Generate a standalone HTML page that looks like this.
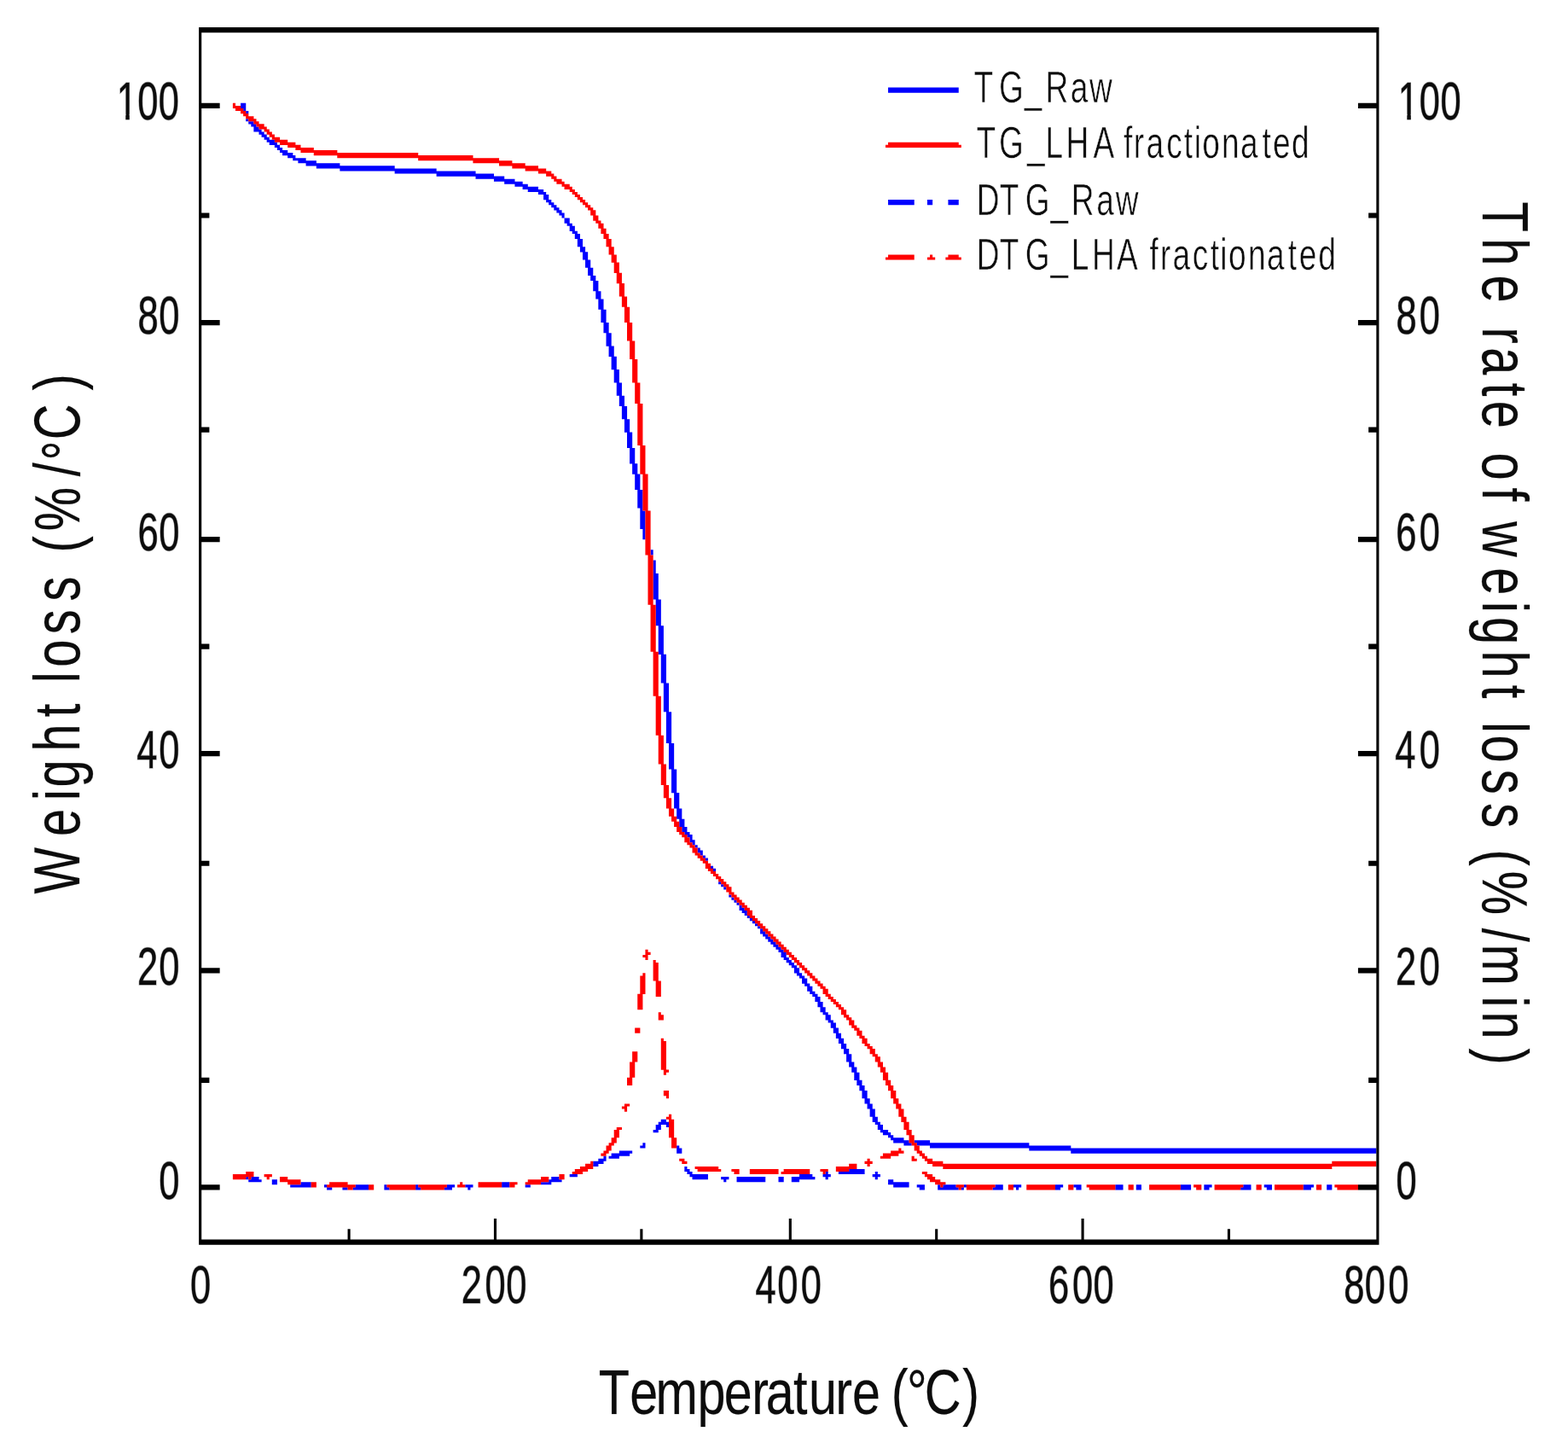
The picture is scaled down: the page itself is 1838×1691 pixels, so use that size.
<!DOCTYPE html>
<html lang="en">
<head>
<meta charset="utf-8">
<title>TG / DTG curves</title>
<style>
html, body { margin: 0; padding: 0; background: #ffffff; }
body { width: 1838px; height: 1691px; overflow: hidden; }
svg { display: block; }
text { white-space: pre; }
</style>
</head>
<body>
<figure id="chart" style="margin:0;width:1838px;height:1691px">
<svg width="1838" height="1691" viewBox="0 0 1838 1691" role="img" aria-label="TG and DTG curves of raw and LHA fractionated samples">
<rect x="0" y="0" width="1838" height="1691" fill="#ffffff"/>
<g>
<path fill="#0000ff" d="M1041.05 102.48h82.69v6.18h-82.69zM282.07 120.85h6.18v6.18h-6.18zM285.13 126.97h3.12v3.12h-3.12zM288.19 130.03h3.12v3.12h-3.12zM288.19 139.22h3.12v3.12h-3.12zM291.25 142.28h6.18v3.12h-6.18zM294.31 145.34h6.18v3.12h-6.18zM297.37 148.4h6.18v3.12h-6.18zM297.37 151.46h9.24v3.12h-9.24zM303.49 154.53h6.18v3.12h-6.18zM306.55 157.59h6.18v3.12h-6.18zM309.61 160.65h6.18v3.12h-6.18zM312.67 163.71h9.24v3.12h-9.24zM315.73 166.77h9.24v3.12h-9.24zM321.85 169.83h6.18v3.12h-6.18zM324.91 172.89h6.18v3.12h-6.18zM327.97 175.96h9.24v3.12h-9.24zM331.03 179.02h12.3v3.12h-12.3zM337.15 182.08h9.24v3.12h-9.24zM343.27 185.14h15.36v3.12h-15.36zM349.4 188.2h21.48v3.12h-21.48zM358.58 191.26h39.85v3.12h-39.85zM370.82 194.32h91.87v3.12h-91.87zM398.36 197.39h113.29v3.12h-113.29zM462.63 200.45h94.93v3.12h-94.93zM511.6 203.51h67.39v3.12h-67.39zM557.5 206.57h33.72v3.12h-33.72zM578.93 209.63h24.54v3.12h-24.54zM591.17 212.69h21.48v3.12h-21.48zM603.41 215.75h15.36v3.12h-15.36zM612.59 218.82h18.42v3.12h-18.42zM618.71 221.88h18.42v3.12h-18.42zM630.95 224.94h9.24v3.12h-9.24zM637.07 228h6.18v6.18h-6.18zM640.13 234.12h6.18v3.12h-6.18zM1041.05 234.12h30.66v6.18h-30.66zM1086.95 234.12h6.18v6.18h-6.18zM1111.44 234.12h12.3v6.18h-12.3zM643.19 237.19h6.18v3.12h-6.18zM646.25 240.25h6.18v3.12h-6.18zM649.31 243.31h6.18v3.12h-6.18zM652.38 246.37h6.18v3.12h-6.18zM655.44 249.43h6.18v3.12h-6.18zM658.5 252.49h3.12v3.12h-3.12zM661.56 255.55h6.18v6.18h-6.18zM664.62 261.68h6.18v3.12h-6.18zM667.68 264.74h6.18v6.18h-6.18zM670.74 270.86h6.18v3.12h-6.18zM673.8 273.92h6.18v6.18h-6.18zM676.86 280.05h6.18v9.24h-6.18zM679.92 289.23h6.18v6.18h-6.18zM682.98 295.35h6.18v9.24h-6.18zM686.04 304.54h6.18v9.24h-6.18zM689.1 313.72h6.18v9.24h-6.18zM692.16 322.91h6.18v6.18h-6.18zM695.22 329.03h6.18v12.31h-6.18zM698.28 341.28h6.18v9.24h-6.18zM701.34 350.46h6.18v12.31h-6.18zM704.4 362.71h6.18v15.37h-6.18zM707.46 378.01h6.18v12.31h-6.18zM710.52 390.26h6.18v15.37h-6.18zM713.58 405.57h6.18v12.31h-6.18zM716.64 417.81h6.18v15.37h-6.18zM719.7 433.12h6.18v15.37h-6.18zM722.76 448.43h6.18v15.37h-6.18zM725.82 463.74h6.18v12.31h-6.18zM728.89 475.98h6.18v15.37h-6.18zM731.95 491.29h6.18v15.37h-6.18zM735.01 506.6h6.18v18.43h-6.18zM738.07 524.97h6.18v18.43h-6.18zM741.13 543.34h6.18v12.31h-6.18zM744.19 555.58h6.18v18.43h-6.18zM747.25 573.95h6.18v21.49h-6.18zM750.31 595.38h3.12v3.12h-3.12zM750.31 598.44h6.18v21.49h-6.18zM753.37 619.87h3.12v12.31h-3.12zM762.55 644.37h3.12v6.18h-3.12zM765.61 656.61h3.12v15.37h-3.12zM765.61 671.92h6.18v30.68h-6.18zM768.67 702.53h6.18v30.68h-6.18zM771.73 733.15h6.18v33.74h-6.18zM774.79 766.83h6.18v33.74h-6.18zM777.85 800.5h6.18v33.74h-6.18zM780.91 834.18h6.18v36.8h-6.18zM783.97 870.92h6.18v30.68h-6.18zM787.03 901.53h6.18v27.61h-6.18zM790.09 929.08h6.18v18.43h-6.18zM793.15 947.45h6.18v12.31h-6.18zM796.21 959.7h6.18v9.24h-6.18zM799.27 968.88h6.18v6.18h-6.18zM802.33 975.01h6.18v3.12h-6.18zM805.4 978.07h6.18v3.12h-6.18zM808.46 981.13h3.12v3.12h-3.12zM808.46 984.19h6.18v3.12h-6.18zM811.52 987.25h3.12v3.12h-3.12zM814.58 990.31h3.12v3.12h-3.12zM817.64 993.38h3.12v3.12h-3.12zM817.64 996.44h6.18v3.12h-6.18zM820.7 999.5h3.12v3.12h-3.12zM823.76 1002.56h3.12v3.12h-3.12zM826.82 1005.62h3.12v3.12h-3.12zM832.94 1014.81h3.12v3.12h-3.12zM836 1017.87h3.12v3.12h-3.12zM842.12 1033.18h3.12v3.12h-3.12zM845.18 1036.24h3.12v3.12h-3.12zM848.24 1039.3h3.12v3.12h-3.12zM854.36 1048.48h3.12v3.12h-3.12zM857.42 1051.54h3.12v3.12h-3.12zM860.48 1054.61h3.12v3.12h-3.12zM863.54 1057.67h3.12v3.12h-3.12zM866.6 1060.73h3.12v3.12h-3.12zM866.6 1063.79h6.18v3.12h-6.18zM869.66 1066.85h6.18v3.12h-6.18zM872.72 1069.91h3.12v3.12h-3.12zM875.78 1072.98h3.12v3.12h-3.12zM878.84 1076.04h3.12v3.12h-3.12zM881.91 1079.1h3.12v3.12h-3.12zM884.97 1082.16h3.12v3.12h-3.12zM888.03 1085.22h3.12v3.12h-3.12zM891.09 1088.28h3.12v3.12h-3.12zM891.09 1091.34h6.18v3.12h-6.18zM894.15 1094.41h6.18v3.12h-6.18zM897.21 1097.47h6.18v3.12h-6.18zM900.27 1100.53h6.18v3.12h-6.18zM903.33 1103.59h6.18v3.12h-6.18zM906.39 1106.65h6.18v3.12h-6.18zM909.45 1109.71h6.18v3.12h-6.18zM912.51 1112.77h6.18v3.12h-6.18zM915.57 1115.84h6.18v6.18h-6.18zM918.63 1121.96h6.18v3.12h-6.18zM921.69 1125.02h6.18v3.12h-6.18zM924.75 1128.08h6.18v3.12h-6.18zM927.81 1131.14h6.18v3.12h-6.18zM930.87 1134.21h6.18v6.18h-6.18zM933.93 1140.33h6.18v3.12h-6.18zM936.99 1143.39h6.18v3.12h-6.18zM940.05 1146.45h6.18v6.18h-6.18zM943.11 1152.57h6.18v3.12h-6.18zM946.17 1155.64h6.18v6.18h-6.18zM949.23 1161.76h6.18v3.12h-6.18zM952.29 1164.82h6.18v3.12h-6.18zM955.35 1167.88h6.18v6.18h-6.18zM958.42 1174h6.18v6.18h-6.18zM961.48 1180.13h6.18v6.18h-6.18zM964.54 1186.25h6.18v3.12h-6.18zM967.6 1189.31h6.18v6.18h-6.18zM970.66 1195.44h6.18v3.12h-6.18zM973.72 1198.5h6.18v6.18h-6.18zM976.78 1204.62h6.18v6.18h-6.18zM979.84 1210.74h6.18v6.18h-6.18zM982.9 1216.87h6.18v6.18h-6.18zM985.96 1222.99h6.18v6.18h-6.18zM989.02 1229.11h6.18v6.18h-6.18zM992.08 1235.23h6.18v9.24h-6.18zM995.14 1244.42h6.18v6.18h-6.18zM998.2 1250.54h6.18v6.18h-6.18zM1001.26 1256.67h6.18v9.24h-6.18zM1004.32 1265.85h6.18v6.18h-6.18zM1007.38 1271.97h6.18v6.18h-6.18zM1010.44 1278.1h6.18v9.24h-6.18zM1013.5 1287.28h6.18v6.18h-6.18zM1016.56 1293.4h6.18v6.18h-6.18zM1019.62 1299.53h6.18v9.24h-6.18zM1022.68 1308.71h6.18v6.18h-6.18zM774.79 1311.77h6.18v3.12h-6.18zM771.73 1314.83h12.3v3.12h-12.3zM1025.74 1314.83h6.18v3.12h-6.18zM768.67 1317.89h6.18v6.18h-6.18zM780.91 1317.89h3.12v3.12h-3.12zM1028.8 1317.89h6.18v6.18h-6.18zM765.61 1324.02h6.18v3.12h-6.18zM1031.86 1324.02h9.24v3.12h-9.24zM1034.93 1327.08h9.24v3.12h-9.24zM1041.05 1330.14h6.18v3.12h-6.18zM1044.11 1333.2h15.36v3.12h-15.36zM1047.17 1336.26h18.42v3.12h-18.42zM1071.65 1336.26h18.42v3.12h-18.42zM753.37 1339.33h3.12v3.12h-3.12zM1059.41 1339.33h9.24v3.12h-9.24zM1074.71 1339.33h131.66v3.12h-131.66zM750.31 1342.39h6.18v3.12h-6.18zM793.15 1342.39h3.12v3.12h-3.12zM1090.01 1342.39h165.32v3.12h-165.32zM793.15 1345.45h6.18v6.18h-6.18zM1206.31 1345.45h407.09v3.12h-407.09zM725.82 1348.51h15.36v3.12h-15.36zM1255.27 1348.51h358.13v3.12h-358.13zM716.64 1351.57h21.48v3.12h-21.48zM707.46 1354.63h3.12v3.12h-3.12zM713.58 1354.63h12.3v3.12h-12.3zM701.34 1357.69h9.24v3.12h-9.24zM695.22 1360.76h12.3v3.12h-12.3zM695.22 1363.82h6.18v3.12h-6.18zM802.33 1366.88h3.12v3.12h-3.12zM802.33 1369.94h6.18v3.12h-6.18zM995.14 1369.94h18.42v3.12h-18.42zM805.4 1373h6.18v3.12h-6.18zM967.6 1373h3.12v3.12h-3.12zM982.9 1373h30.66v3.12h-30.66zM1025.74 1373h3.12v3.12h-3.12zM667.68 1376.06h9.24v3.12h-9.24zM808.46 1376.06h21.48v3.12h-21.48zM936.99 1376.06h15.36v3.12h-15.36zM964.54 1376.06h9.24v3.12h-9.24zM1022.68 1376.06h9.24v3.12h-9.24zM288.19 1379.12h3.12v3.12h-3.12zM294.31 1379.12h9.24v3.12h-9.24zM646.25 1379.12h9.24v3.12h-9.24zM811.52 1379.12h18.42v3.12h-18.42zM845.18 1379.12h9.24v3.12h-9.24zM863.54 1379.12h33.72v6.18h-33.72zM912.51 1379.12h6.18v6.18h-6.18zM927.81 1379.12h27.6v3.12h-27.6zM967.6 1379.12h3.12v3.12h-3.12zM1025.74 1379.12h3.12v3.12h-3.12zM291.25 1382.19h15.36v3.12h-15.36zM318.79 1382.19h6.18v6.18h-6.18zM643.19 1382.19h15.36v3.12h-15.36zM848.24 1382.19h3.12v3.12h-3.12zM927.81 1382.19h9.24v3.12h-9.24zM1041.05 1382.19h6.18v3.12h-6.18zM352.46 1385.25h12.3v3.12h-12.3zM588.11 1385.25h9.24v6.18h-9.24zM634.01 1385.25h12.3v3.12h-12.3zM1041.05 1385.25h24.54v3.12h-24.54zM340.21 1388.31h24.54v3.12h-24.54zM380 1388.31h3.12v3.12h-3.12zM416.72 1388.31h15.36v3.12h-15.36zM450.39 1388.31h3.12v3.12h-3.12zM487.11 1388.31h3.12v3.12h-3.12zM523.84 1388.31h9.24v3.12h-9.24zM545.26 1388.31h9.24v3.12h-9.24zM615.65 1388.31h6.18v3.12h-6.18zM1047.17 1388.31h18.42v3.12h-18.42zM1074.71 1388.31h9.24v3.12h-9.24zM1099.19 1388.31h3.12v3.12h-3.12zM1105.31 1388.31h15.36v3.12h-15.36zM1129.8 1388.31h3.12v3.12h-3.12zM1166.52 1388.31h9.24v3.12h-9.24zM1187.95 1388.31h9.24v3.12h-9.24zM1236.91 1388.31h9.24v3.12h-9.24zM1258.33 1388.31h9.24v3.12h-9.24zM1307.3 1388.31h9.24v6.18h-9.24zM1331.78 1388.31h6.18v6.18h-6.18zM1383.81 1388.31h12.3v6.18h-12.3zM1411.35 1388.31h9.24v3.12h-9.24zM1457.26 1388.31h9.24v3.12h-9.24zM1481.74 1388.31h9.24v3.12h-9.24zM1527.65 1388.31h12.3v3.12h-12.3zM1555.19 1388.31h6.18v6.18h-6.18zM383.06 1391.37h6.18v3.12h-6.18zM401.42 1391.37h6.18v3.12h-6.18zM413.66 1391.37h18.42v3.12h-18.42zM450.39 1391.37h6.18v3.12h-6.18zM487.11 1391.37h6.18v3.12h-6.18zM520.78 1391.37h9.24v3.12h-9.24zM548.32 1391.37h3.12v3.12h-3.12zM1077.77 1391.37h6.18v3.12h-6.18zM1099.19 1391.37h24.54v3.12h-24.54zM1126.74 1391.37h3.12v3.12h-3.12zM1163.46 1391.37h12.3v3.12h-12.3zM1191.01 1391.37h3.12v3.12h-3.12zM1236.91 1391.37h6.18v3.12h-6.18zM1261.39 1391.37h6.18v3.12h-6.18zM1411.35 1391.37h6.18v3.12h-6.18zM1454.2 1391.37h12.3v3.12h-12.3zM1484.8 1391.37h6.18v3.12h-6.18zM1527.65 1391.37h9.24v3.12h-9.24z"/>
<path fill="#ff0000" d="M272.89 120.85h3.12v3.12h-3.12zM272.89 123.91h9.24v3.12h-9.24zM275.95 126.97h9.24v3.12h-9.24zM282.07 130.03h6.18v3.12h-6.18zM285.13 133.09h6.18v3.12h-6.18zM288.19 136.16h9.24v3.12h-9.24zM291.25 139.22h9.24v3.12h-9.24zM297.37 142.28h6.18v3.12h-6.18zM300.43 145.34h9.24v3.12h-9.24zM303.49 148.4h9.24v3.12h-9.24zM309.61 151.46h6.18v3.12h-6.18zM312.67 154.53h6.18v3.12h-6.18zM315.73 157.59h6.18v3.12h-6.18zM318.79 160.65h9.24v3.12h-9.24zM321.85 163.71h15.36v3.12h-15.36zM327.97 166.77h18.42v3.12h-18.42zM1041.05 166.77h82.69v3.12h-82.69zM337.15 169.83h15.36v3.12h-15.36zM1037.99 169.83h88.81v3.12h-88.81zM346.34 172.89h21.48v3.12h-21.48zM352.46 175.96h42.91v3.12h-42.91zM367.76 179.02h122.48v3.12h-122.48zM395.3 182.08h159.2v3.12h-159.2zM490.17 185.14h94.93v3.12h-94.93zM554.44 188.2h45.97v3.12h-45.97zM585.05 191.26h30.66v3.12h-30.66zM600.35 194.32h30.66v3.12h-30.66zM615.65 197.39h24.54v3.12h-24.54zM630.95 200.45h15.36v3.12h-15.36zM640.13 203.51h9.24v3.12h-9.24zM646.25 206.57h6.18v3.12h-6.18zM649.31 209.63h9.24v3.12h-9.24zM652.38 212.69h9.24v3.12h-9.24zM658.5 215.75h9.24v3.12h-9.24zM661.56 218.82h9.24v3.12h-9.24zM667.68 221.88h6.18v3.12h-6.18zM670.74 224.94h6.18v3.12h-6.18zM673.8 228h6.18v3.12h-6.18zM676.86 231.06h6.18v3.12h-6.18zM679.92 234.12h6.18v3.12h-6.18zM682.98 237.19h6.18v3.12h-6.18zM686.04 240.25h6.18v3.12h-6.18zM689.1 243.31h6.18v3.12h-6.18zM692.16 246.37h6.18v6.18h-6.18zM695.22 252.49h6.18v6.18h-6.18zM698.28 258.62h6.18v3.12h-6.18zM701.34 261.68h6.18v6.18h-6.18zM704.4 267.8h6.18v6.18h-6.18zM707.46 273.92h6.18v6.18h-6.18zM710.52 280.05h6.18v9.24h-6.18zM713.58 289.23h6.18v9.24h-6.18zM716.64 298.42h6.18v9.24h-6.18zM1041.05 298.42h30.66v3.12h-30.66zM1090.01 298.42h3.12v3.12h-3.12zM1111.44 298.42h12.3v3.12h-12.3zM1037.99 301.48h33.72v3.12h-33.72zM1086.95 301.48h9.24v3.12h-9.24zM1108.37 301.48h18.42v3.12h-18.42zM719.7 307.6h6.18v12.31h-6.18zM722.76 319.85h6.18v12.31h-6.18zM725.82 332.09h6.18v15.37h-6.18zM728.89 347.4h6.18v12.31h-6.18zM731.95 359.65h6.18v18.43h-6.18zM735.01 378.01h6.18v21.49h-6.18zM738.07 399.44h6.18v21.49h-6.18zM741.13 420.88h6.18v27.61h-6.18zM744.19 448.43h6.18v24.55h-6.18zM747.25 472.92h6.18v49.04h-6.18zM750.31 521.91h6.18v33.74h-6.18zM753.37 555.58h6.18v42.92h-6.18zM756.43 598.44h6.18v52.11h-6.18zM759.49 650.49h6.18v58.23h-6.18zM762.55 708.66h6.18v55.17h-6.18zM765.61 763.76h6.18v52.11h-6.18zM768.67 815.81h6.18v45.98h-6.18zM771.73 861.73h6.18v33.74h-6.18zM774.79 895.41h6.18v24.55h-6.18zM777.85 919.9h6.18v15.37h-6.18zM780.91 935.21h6.18v12.31h-6.18zM783.97 947.45h6.18v9.24h-6.18zM787.03 956.64h6.18v6.18h-6.18zM790.09 962.76h6.18v6.18h-6.18zM793.15 968.88h6.18v6.18h-6.18zM796.21 975.01h6.18v3.12h-6.18zM799.27 978.07h6.18v3.12h-6.18zM802.33 981.13h6.18v6.18h-6.18zM805.4 987.25h6.18v3.12h-6.18zM808.46 990.31h6.18v3.12h-6.18zM811.52 993.38h6.18v6.18h-6.18zM814.58 999.5h6.18v3.12h-6.18zM817.64 1002.56h6.18v3.12h-6.18zM820.7 1005.62h6.18v3.12h-6.18zM823.76 1008.68h6.18v3.12h-6.18zM826.82 1011.75h6.18v6.18h-6.18zM829.88 1017.87h6.18v3.12h-6.18zM832.94 1020.93h6.18v3.12h-6.18zM836 1023.99h6.18v3.12h-6.18zM839.06 1027.05h6.18v3.12h-6.18zM842.12 1030.11h6.18v3.12h-6.18zM845.18 1033.18h6.18v3.12h-6.18zM848.24 1036.24h6.18v3.12h-6.18zM851.3 1039.3h6.18v6.18h-6.18zM854.36 1045.42h6.18v3.12h-6.18zM857.42 1048.48h6.18v3.12h-6.18zM860.48 1051.54h6.18v3.12h-6.18zM863.54 1054.61h6.18v3.12h-6.18zM866.6 1057.67h6.18v3.12h-6.18zM869.66 1060.73h6.18v3.12h-6.18zM872.72 1063.79h6.18v3.12h-6.18zM875.78 1066.85h6.18v6.18h-6.18zM878.84 1072.98h6.18v3.12h-6.18zM881.91 1076.04h6.18v3.12h-6.18zM884.97 1079.1h6.18v3.12h-6.18zM888.03 1082.16h6.18v3.12h-6.18zM891.09 1085.22h6.18v3.12h-6.18zM894.15 1088.28h6.18v3.12h-6.18zM897.21 1091.34h6.18v3.12h-6.18zM900.27 1094.41h6.18v3.12h-6.18zM903.33 1097.47h6.18v3.12h-6.18zM906.39 1100.53h6.18v3.12h-6.18zM909.45 1103.59h6.18v3.12h-6.18zM912.51 1106.65h6.18v3.12h-6.18zM915.57 1109.71h6.18v3.12h-6.18zM756.43 1112.77h3.12v3.12h-3.12zM918.63 1112.77h6.18v3.12h-6.18zM756.43 1115.84h6.18v3.12h-6.18zM921.69 1115.84h6.18v3.12h-6.18zM753.37 1118.9h6.18v3.12h-6.18zM924.75 1118.9h6.18v3.12h-6.18zM756.43 1121.96h3.12v3.12h-3.12zM927.81 1121.96h6.18v3.12h-6.18zM765.61 1125.02h3.12v3.12h-3.12zM930.87 1125.02h6.18v3.12h-6.18zM765.61 1128.08h6.18v21.49h-6.18zM933.93 1128.08h6.18v3.12h-6.18zM936.99 1131.14h6.18v3.12h-6.18zM940.05 1134.21h6.18v3.12h-6.18zM943.11 1137.27h6.18v3.12h-6.18zM753.37 1140.33h3.12v3.12h-3.12zM946.17 1140.33h6.18v3.12h-6.18zM750.31 1143.39h6.18v21.49h-6.18zM949.23 1143.39h6.18v3.12h-6.18zM952.29 1146.45h6.18v3.12h-6.18zM768.67 1149.51h6.18v18.43h-6.18zM955.35 1149.51h6.18v3.12h-6.18zM958.42 1152.57h6.18v3.12h-6.18zM961.48 1155.64h6.18v3.12h-6.18zM964.54 1158.7h6.18v6.18h-6.18zM747.25 1164.82h6.18v18.43h-6.18zM967.6 1164.82h6.18v3.12h-6.18zM970.66 1167.88h6.18v3.12h-6.18zM973.72 1170.94h6.18v3.12h-6.18zM976.78 1174h6.18v3.12h-6.18zM979.84 1177.07h6.18v3.12h-6.18zM982.9 1180.13h6.18v3.12h-6.18zM985.96 1183.19h6.18v6.18h-6.18zM771.73 1186.25h3.12v3.12h-3.12zM771.73 1189.31h6.18v6.18h-6.18zM989.02 1189.31h6.18v3.12h-6.18zM992.08 1192.37h6.18v3.12h-6.18zM995.14 1195.44h6.18v6.18h-6.18zM998.2 1201.56h6.18v3.12h-6.18zM744.19 1204.62h6.18v6.18h-6.18zM1001.26 1204.62h6.18v3.12h-6.18zM1004.32 1207.68h6.18v6.18h-6.18zM1007.38 1213.8h6.18v3.12h-6.18zM774.79 1216.87h3.12v3.12h-3.12zM1010.44 1216.87h6.18v6.18h-6.18zM774.79 1219.93h6.18v33.74h-6.18zM1013.5 1222.99h6.18v3.12h-6.18zM1016.56 1226.05h6.18v3.12h-6.18zM1019.62 1229.11h6.18v6.18h-6.18zM741.13 1232.17h6.18v12.31h-6.18zM1022.68 1235.23h6.18v3.12h-6.18zM1025.74 1238.3h6.18v6.18h-6.18zM738.07 1244.42h6.18v18.43h-6.18zM1028.8 1244.42h6.18v6.18h-6.18zM1031.86 1250.54h6.18v6.18h-6.18zM777.85 1253.6h6.18v3.12h-6.18zM777.85 1256.67h3.12v3.12h-3.12zM1034.93 1256.67h6.18v9.24h-6.18zM735.01 1262.79h6.18v9.24h-6.18zM1037.99 1265.85h6.18v6.18h-6.18zM1041.05 1271.97h6.18v6.18h-6.18zM777.85 1278.1h6.18v6.18h-6.18zM1044.11 1278.1h6.18v9.24h-6.18zM780.91 1284.22h3.12v3.12h-3.12zM1047.17 1287.28h6.18v6.18h-6.18zM731.95 1293.4h6.18v3.12h-6.18zM1050.23 1293.4h6.18v6.18h-6.18zM728.89 1296.46h6.18v3.12h-6.18zM731.95 1299.53h3.12v3.12h-3.12zM1053.29 1299.53h6.18v9.24h-6.18zM783.97 1305.65h3.12v3.12h-3.12zM780.91 1308.71h6.18v3.12h-6.18zM1056.35 1308.71h6.18v6.18h-6.18zM783.97 1311.77h6.18v21.49h-6.18zM1059.41 1314.83h6.18v9.24h-6.18zM722.76 1320.96h6.18v3.12h-6.18zM719.7 1324.02h6.18v9.24h-6.18zM1062.47 1324.02h6.18v6.18h-6.18zM1065.53 1330.14h6.18v9.24h-6.18zM716.64 1333.2h6.18v6.18h-6.18zM787.03 1333.2h6.18v12.31h-6.18zM713.58 1339.33h6.18v3.12h-6.18zM1068.59 1339.33h6.18v3.12h-6.18zM710.52 1342.39h6.18v6.18h-6.18zM1071.65 1342.39h6.18v6.18h-6.18zM1053.29 1345.45h3.12v3.12h-3.12zM707.46 1348.51h6.18v3.12h-6.18zM1044.11 1348.51h15.36v3.12h-15.36zM1074.71 1348.51h6.18v3.12h-6.18zM704.4 1351.57h6.18v3.12h-6.18zM1034.93 1351.57h18.42v3.12h-18.42zM1077.77 1351.57h6.18v3.12h-6.18zM1031.86 1354.63h12.3v3.12h-12.3zM1068.59 1354.63h3.12v3.12h-3.12zM1080.83 1354.63h6.18v3.12h-6.18zM796.21 1357.69h6.18v3.12h-6.18zM1016.56 1357.69h3.12v3.12h-3.12zM1068.59 1357.69h6.18v3.12h-6.18zM1083.89 1357.69h9.24v3.12h-9.24zM692.16 1360.76h3.12v3.12h-3.12zM799.27 1360.76h6.18v3.12h-6.18zM1013.5 1360.76h9.24v3.12h-9.24zM1086.95 1360.76h18.42v3.12h-18.42zM1561.31 1360.76h52.09v3.12h-52.09zM686.04 1363.82h9.24v3.12h-9.24zM995.14 1363.82h9.24v3.12h-9.24zM1016.56 1363.82h3.12v3.12h-3.12zM1093.07 1363.82h520.33v3.12h-520.33zM679.92 1366.88h15.36v3.12h-15.36zM814.58 1366.88h27.6v3.12h-27.6zM979.84 1366.88h24.54v3.12h-24.54zM1105.31 1366.88h456.06v3.12h-456.06zM673.8 1369.94h15.36v3.12h-15.36zM817.64 1369.94h27.6v3.12h-27.6zM857.42 1369.94h9.24v3.12h-9.24zM878.84 1369.94h33.72v6.18h-33.72zM918.63 1369.94h30.66v3.12h-30.66zM961.48 1369.94h9.24v3.12h-9.24zM979.84 1369.94h15.36v3.12h-15.36zM288.19 1373h9.24v3.12h-9.24zM670.74 1373h12.3v3.12h-12.3zM860.48 1373h6.18v3.12h-6.18zM915.57 1373h33.72v3.12h-33.72zM964.54 1373h3.12v3.12h-3.12zM1080.83 1373h6.18v3.12h-6.18zM272.89 1376.06h24.54v3.12h-24.54zM309.61 1376.06h9.24v3.12h-9.24zM655.44 1376.06h6.18v6.18h-6.18zM1083.89 1376.06h9.24v3.12h-9.24zM272.89 1379.12h15.36v3.12h-15.36zM291.25 1379.12h3.12v3.12h-3.12zM312.67 1379.12h3.12v3.12h-3.12zM327.97 1379.12h9.24v3.12h-9.24zM634.01 1379.12h9.24v3.12h-9.24zM1086.95 1379.12h9.24v3.12h-9.24zM327.97 1382.19h24.54v3.12h-24.54zM618.71 1382.19h24.54v3.12h-24.54zM1090.01 1382.19h12.3v3.12h-12.3zM337.15 1385.25h15.36v3.12h-15.36zM364.7 1385.25h6.18v6.18h-6.18zM386.12 1385.25h21.48v3.12h-21.48zM539.14 1385.25h3.12v3.12h-3.12zM560.56 1385.25h27.6v6.18h-27.6zM597.29 1385.25h9.24v3.12h-9.24zM615.65 1385.25h18.42v3.12h-18.42zM1096.13 1385.25h12.3v3.12h-12.3zM383.06 1388.31h33.72v3.12h-33.72zM432.03 1388.31h6.18v6.18h-6.18zM453.45 1388.31h33.72v3.12h-33.72zM490.17 1388.31h33.72v3.12h-33.72zM536.08 1388.31h9.24v3.12h-9.24zM597.29 1388.31h6.18v3.12h-6.18zM1102.25 1388.31h3.12v3.12h-3.12zM1120.62 1388.31h9.24v3.12h-9.24zM1132.86 1388.31h33.72v3.12h-33.72zM1181.82 1388.31h6.18v6.18h-6.18zM1203.25 1388.31h33.72v6.18h-33.72zM1252.21 1388.31h6.18v6.18h-6.18zM1273.64 1388.31h33.72v3.12h-33.72zM1322.6 1388.31h6.18v6.18h-6.18zM1347.09 1388.31h36.78v6.18h-36.78zM1399.11 1388.31h9.24v3.12h-9.24zM1423.6 1388.31h33.72v3.12h-33.72zM1472.56 1388.31h6.18v6.18h-6.18zM1493.99 1388.31h33.72v6.18h-33.72zM1542.95 1388.31h6.18v6.18h-6.18zM1564.37 1388.31h27.6v3.12h-27.6zM407.54 1391.37h6.18v3.12h-6.18zM456.51 1391.37h30.66v3.12h-30.66zM493.23 1391.37h27.6v3.12h-27.6zM1123.68 1391.37h3.12v3.12h-3.12zM1132.86 1391.37h30.66v3.12h-30.66zM1276.7 1391.37h30.66v3.12h-30.66zM1402.17 1391.37h6.18v3.12h-6.18zM1423.6 1391.37h30.66v3.12h-30.66zM1567.43 1391.37h24.54v3.12h-24.54z"/>
<path fill="#000000" d="M233.1 32.07h1383.36v6.18h-1383.36zM233.1 38.19h3.12v82.72h-3.12zM1613.34 38.19h3.12v82.72h-3.12zM233.1 120.85h24.54v6.18h-24.54zM1591.92 120.85h24.54v6.18h-24.54zM233.1 126.97h3.12v122.52h-3.12zM1613.34 126.97h3.12v122.52h-3.12zM233.1 249.43h12.3v6.18h-12.3zM1604.16 249.43h12.3v6.18h-12.3zM233.1 255.55h3.12v119.46h-3.12zM1613.34 255.55h3.12v119.46h-3.12zM233.1 374.95h24.54v6.18h-24.54zM1591.92 374.95h24.54v6.18h-24.54zM233.1 381.08h3.12v119.46h-3.12zM1613.34 381.08h3.12v119.46h-3.12zM233.1 500.47h12.3v6.18h-12.3zM1604.16 500.47h12.3v6.18h-12.3zM233.1 506.6h3.12v122.52h-3.12zM1613.34 506.6h3.12v122.52h-3.12zM233.1 629.06h24.54v6.18h-24.54zM1591.92 629.06h24.54v6.18h-24.54zM233.1 635.18h3.12v119.46h-3.12zM1613.34 635.18h3.12v119.46h-3.12zM233.1 754.58h12.3v6.18h-12.3zM1604.16 754.58h12.3v6.18h-12.3zM233.1 760.7h3.12v119.46h-3.12zM1613.34 760.7h3.12v119.46h-3.12zM233.1 880.1h24.54v6.18h-24.54zM1591.92 880.1h24.54v6.18h-24.54zM233.1 886.22h3.12v122.52h-3.12zM1613.34 886.22h3.12v122.52h-3.12zM233.1 1008.68h12.3v6.18h-12.3zM1604.16 1008.68h12.3v6.18h-12.3zM233.1 1014.81h3.12v119.46h-3.12zM1613.34 1014.81h3.12v119.46h-3.12zM233.1 1134.21h24.54v6.18h-24.54zM1591.92 1134.21h24.54v6.18h-24.54zM233.1 1140.33h3.12v122.52h-3.12zM1613.34 1140.33h3.12v122.52h-3.12zM233.1 1262.79h12.3v6.18h-12.3zM1604.16 1262.79h12.3v6.18h-12.3zM233.1 1268.91h3.12v119.46h-3.12zM1613.34 1268.91h3.12v119.46h-3.12zM233.1 1388.31h24.54v6.18h-24.54zM1591.92 1388.31h24.54v6.18h-24.54zM233.1 1394.43h3.12v58.23h-3.12zM1613.34 1394.43h3.12v58.23h-3.12zM578.93 1428.11h3.12v24.55h-3.12zM924.75 1428.11h3.12v24.55h-3.12zM1267.52 1428.11h3.12v24.55h-3.12zM407.54 1440.36h3.12v12.31h-3.12zM750.31 1440.36h3.12v12.31h-3.12zM1096.13 1440.36h3.12v12.31h-3.12zM1438.9 1440.36h3.12v12.31h-3.12zM233.1 1452.6h1383.36v6.18h-1383.36z"/>
</g>
<g font-family='"Liberation Sans", sans-serif' fill="#0c0c0c">
<text transform="translate(0.00,140.10) scale(0.69,1)" font-size="63" text-anchor="start" x="198.07 233.86 269.29" stroke="#000" stroke-opacity="0.4" stroke-width="1.3" vector-effect="non-scaling-stroke">100</text>
<g transform="translate(0,140.10) scale(0.69,1)" fill="#fff"><rect x="199.91" y="-6.31" width="13.50" height="8.71"/><rect x="219.98" y="-6.31" width="12.43" height="8.71"/></g>
<text transform="translate(0.00,140.10) scale(0.69,1)" font-size="63" text-anchor="start" x="2374.95 2411.18 2446.97" stroke="#000" stroke-opacity="0.4" stroke-width="1.3" vector-effect="non-scaling-stroke">100</text>
<g transform="translate(0,140.10) scale(0.69,1)" fill="#fff"><rect x="2376.80" y="-6.31" width="13.50" height="8.71"/><rect x="2396.86" y="-6.31" width="12.43" height="8.71"/></g>
<text transform="translate(0.00,391.30) scale(0.69,1)" font-size="63" text-anchor="start" x="234.00 269.80" stroke="#000" stroke-opacity="0.4" stroke-width="1.3" vector-effect="non-scaling-stroke">80</text>
<text transform="translate(0.00,391.30) scale(0.69,1)" font-size="63" text-anchor="start" x="2371.72 2411.39" stroke="#000" stroke-opacity="0.4" stroke-width="1.3" vector-effect="non-scaling-stroke">80</text>
<text transform="translate(0.00,645.25) scale(0.69,1)" font-size="63" text-anchor="start" x="234.00 269.80" stroke="#000" stroke-opacity="0.4" stroke-width="1.3" vector-effect="non-scaling-stroke">60</text>
<text transform="translate(0.00,645.25) scale(0.69,1)" font-size="63" text-anchor="start" x="2371.50 2411.39" stroke="#000" stroke-opacity="0.4" stroke-width="1.3" vector-effect="non-scaling-stroke">60</text>
<text transform="translate(0.00,899.60) scale(0.69,1)" font-size="63" text-anchor="start" x="232.25 269.80" stroke="#000" stroke-opacity="0.4" stroke-width="1.3" vector-effect="non-scaling-stroke">40</text>
<text transform="translate(0.00,899.60) scale(0.69,1)" font-size="63" text-anchor="start" x="2369.78 2411.39" stroke="#000" stroke-opacity="0.4" stroke-width="1.3" vector-effect="non-scaling-stroke">40</text>
<text transform="translate(0.00,1153.80) scale(0.69,1)" font-size="63" text-anchor="start" x="233.42 269.80" stroke="#000" stroke-opacity="0.4" stroke-width="1.3" vector-effect="non-scaling-stroke">20</text>
<text transform="translate(0.00,1153.80) scale(0.69,1)" font-size="63" text-anchor="start" x="2371.03 2411.39" stroke="#000" stroke-opacity="0.4" stroke-width="1.3" vector-effect="non-scaling-stroke">20</text>
<text transform="translate(0.00,1404.80) scale(0.69,1)" font-size="63" text-anchor="start" x="269.80" stroke="#000" stroke-opacity="0.4" stroke-width="1.3" vector-effect="non-scaling-stroke">0</text>
<text transform="translate(0.00,1404.80) scale(0.69,1)" font-size="63" text-anchor="start" x="2371.72" stroke="#000" stroke-opacity="0.4" stroke-width="1.3" vector-effect="non-scaling-stroke">0</text>
<text transform="translate(0.00,1527.10) scale(0.69,1)" font-size="63" text-anchor="start" x="323.06" stroke="#000" stroke-opacity="0.4" stroke-width="1.3" vector-effect="non-scaling-stroke">0</text>
<text transform="translate(0.00,1527.10) scale(0.69,1)" font-size="63" text-anchor="start" x="783.79 823.86 859.87" stroke="#000" stroke-opacity="0.4" stroke-width="1.3" vector-effect="non-scaling-stroke">200</text>
<text transform="translate(0.00,1527.10) scale(0.69,1)" font-size="63" text-anchor="start" x="1283.26 1320.52 1360.67" stroke="#000" stroke-opacity="0.4" stroke-width="1.3" vector-effect="non-scaling-stroke">400</text>
<text transform="translate(0.00,1527.10) scale(0.69,1)" font-size="63" text-anchor="start" x="1781.32 1821.61 1857.19" stroke="#000" stroke-opacity="0.4" stroke-width="1.3" vector-effect="non-scaling-stroke">600</text>
<text transform="translate(0.00,1527.10) scale(0.69,1)" font-size="63" text-anchor="start" x="2283.06 2318.35 2358.50" stroke="#000" stroke-opacity="0.4" stroke-width="1.3" vector-effect="non-scaling-stroke">800</text>
<text transform="translate(1100.00,120.10) scale(0.72,1)" font-size="51.5" text-anchor="start" x="57.69 98.72 140.02 174.24 215.00 245.96" stroke="#fff" stroke-width="0.6">TG_Raw</text>
<text transform="translate(1100.00,184.50) scale(0.72,1)" font-size="51.5" text-anchor="start" x="61.99 98.72 144.32 174.28 207.71 252.20 286.55 301.47 317.64 338.06 371.36 399.52 416.44 429.57 461.20 491.53 527.02 544.34 575.08" stroke="#fff" stroke-width="0.6">TG_LHA fractionated</text>
<text transform="translate(1100.00,251.60) scale(0.72,1)" font-size="51.5" text-anchor="start" x="62.12 99.77 141.29 182.52 216.32 257.36 288.53" stroke="#fff" stroke-width="0.6">DTG_Raw</text>
<text transform="translate(1100.00,316.00) scale(0.72,1)" font-size="51.5" text-anchor="start" x="62.12 99.77 141.29 182.52 216.37 249.86 290.39 324.74 343.76 361.05 381.39 413.65 442.85 458.81 472.35 504.11 534.72 569.24 587.26 618.48" stroke="#fff" stroke-width="0.6">DTG_LHA fractionated</text>
<text transform="translate(700.00,1657.30) scale(0.79,1)" font-size="75" text-anchor="start" x="2.11 48.52 86.78 148.62 188.33 229.57 250.21 291.19 313.88 353.62 378.46 420.17 436.55 459.52 485.80 542.15" stroke="#000" stroke-opacity="0.4" stroke-width="0.5" vector-effect="non-scaling-stroke">Temperature (°C)</text>
<text transform="translate(92.90,1100.00) rotate(-90) scale(0.76,1)" font-size="76" text-anchor="start" x="69.10 158.02 213.02 233.54 288.96 341.38 362.50 394.50 418.87 469.34 520.39 558.39 595.28 628.58 712.86 737.52 769.58 845.53" dy="0.00 0.00 0.00 0.00 0.00 0.00 0.00 0.00 0.00 0.00 0.00 0.00 0.00 0.00 0.00 9.50 -9.50 0.00" stroke="#000" stroke-opacity="0.4" stroke-width="0.5" vector-effect="non-scaling-stroke">Weight loss (%/°C)</text>
<text transform="translate(1738.30,200.00) rotate(90) scale(0.76,1)" font-size="76" text-anchor="start" x="48.12 104.16 161.24 203.51 241.37 272.65 326.84 355.06 397.33 434.98 488.91 510.03 540.94 612.30 664.47 688.14 740.15 792.76 813.88 849.96 870.51 923.22 975.20 1013.20 1046.79 1080.03 1168.00 1193.13 1272.89 1296.77 1353.16" stroke="#000" stroke-opacity="0.4" stroke-width="0.5" vector-effect="non-scaling-stroke">The rate of weight loss (%/min)</text>
</g>
</svg>
</figure>
</body>
</html>
